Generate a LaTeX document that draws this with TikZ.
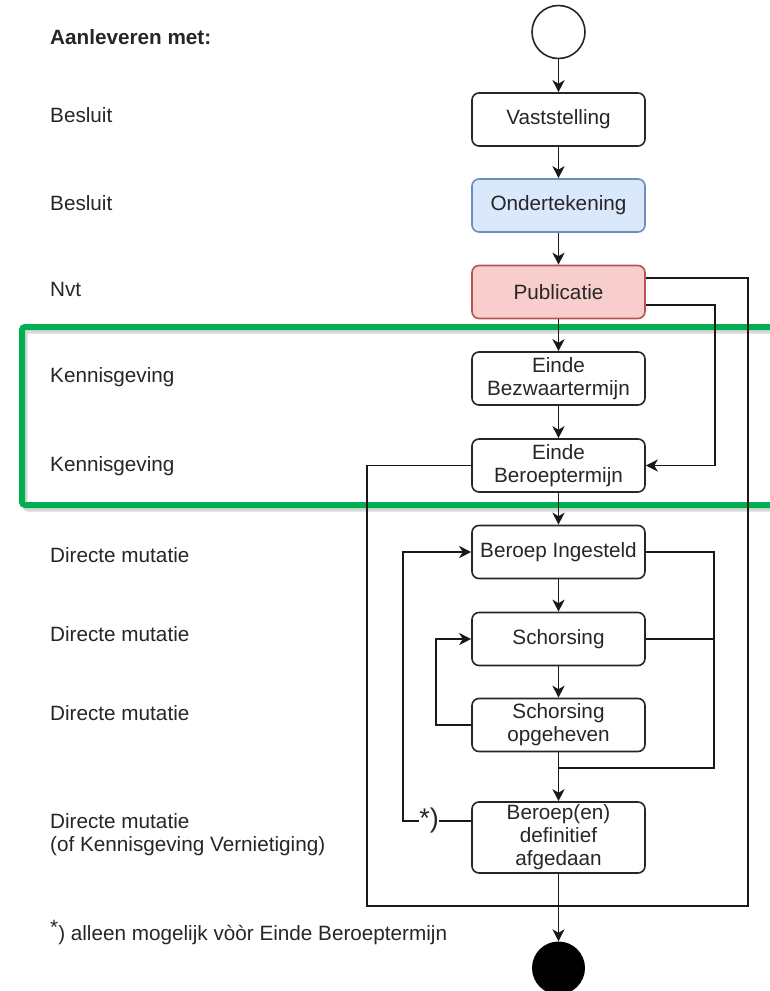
\documentclass[tikz,border=0pt]{standalone}
\usepackage{fontspec}
\setmainfont{Liberation Sans}
\usepackage{xcolor}
\usepackage{tikz}
\usetikzlibrary{arrows.meta}
\definecolor{blauwvak}{HTML}{DAE8FC}
\definecolor{blauwrand}{HTML}{6C8EBF}
\definecolor{roodvak}{HTML}{F8CECC}
\definecolor{roodrand}{HTML}{B85450}
\definecolor{kadergroen}{RGB}{0,176,80}
\begin{document}
\begin{tikzpicture}[x=1pt,y=1pt]
\tikzstyle{every node}+=[font=\fontsize{20.7}{23}\selectfont, text=black!85]
\tikzstyle{stap}=[draw=black!85, line width=1.6pt, rounded corners=7pt, minimum width=173pt, minimum height=53pt, align=center, inner sep=0pt]
\tikzstyle{pijl}=[-{Stealth[length=12pt,width=12pt,inset=3.5pt]}, line width=1.6pt, black!90]
\tikzstyle{lijn}=[line width=1.6pt, black!90]
\tikzstyle{kant}=[anchor=west, align=left, inner sep=0pt]
\useasboundingbox (0,0) rectangle (770,-991);
\draw [black!15, line width=5pt, rounded corners=3pt] (25,-331) rectangle (777,-509);
\draw [kadergroen, line width=6pt, rounded corners=3pt] (22,-327) rectangle (774,-505);
\node [kant] (kop) at (50,-37) {\textbf{Aanleveren met:}};
\node [kant] (l1) at (50,-115) {Besluit};
\node [kant] (l2) at (50,-203) {Besluit};
\node [kant] (l3) at (50,-289) {Nvt};
\node [kant] (l4) at (50,-377) {Kennisgeving};
\node [kant] (l5) at (50,-466) {Kennisgeving};
\node [kant] (l6) at (50,-555) {Directe mutatie};
\node [kant] (l7) at (50,-634) {Directe mutatie};
\node [kant] (l8) at (50,-713) {Directe mutatie};
\node [kant] (l9) at (50,-835) {Directe mutatie\\(of Kennisgeving Vernietiging)};
\node [kant] (voet) at (50,-933) {\raisebox{6pt}{*}) alleen mogelijk vòòr Einde Beroeptermijn};
\node [draw=black!85, line width=1.6pt, circle, minimum size=53pt, inner sep=0pt] (begin) at (558.5,-32) {};
\node [stap] (vast) at (558.5,-119.5) {Vaststelling};
\node [stap, fill=blauwvak, draw=blauwrand] (onder) at (558.5,-205.5) {Ondertekening};
\node [stap, fill=roodvak, draw=roodrand] (publ) at (558.5,-292) {Publicatie};
\node [stap] (bezw) at (558.5,-378.5) {Einde\\Bezwaartermijn};
\node [stap] (berp) at (558.5,-465.5) {Einde\\Beroeptermijn};
\node [stap] (ingest) at (558.5,-552) {Beroep Ingesteld};
\node [stap] (schors) at (558.5,-639) {Schorsing};
\node [stap] (opgeh) at (558.5,-725) {Schorsing\\opgeheven};
\node [stap, minimum height=71pt] (afged) at (558.5,-837.5) {Beroep(en)\\definitief\\afgedaan};
\node [fill=black, circle, minimum size=53pt, inner sep=0pt] (eind) at (558.5,-968) {};
\node [inner sep=0pt, font=\fontsize{27}{27}\selectfont] (ster) at (429,-821) {*)};
\coordinate (rechtsonder) at (748,-906);
\coordinate (linksonder) at (367,-906);
\coordinate (samen) at (714,-768);
\draw [pijl] (begin) -- (vast);
\draw [pijl] (vast) -- (onder);
\draw [pijl] (onder) -- (publ);
\draw [pijl] (publ) -- (bezw);
\draw [pijl] (bezw) -- (berp);
\draw [pijl] (berp) -- (ingest);
\draw [pijl] (ingest) -- (schors);
\draw [pijl] (schors) -- (opgeh);
\draw [pijl] (opgeh) -- (afged);
\draw [pijl] (afged) -- (eind);
\draw [pijl] ([yshift=-13pt]publ.east) -- ++(69,0) |- (berp.east);
\draw [lijn] ([yshift=14pt]publ.east) -| (rechtsonder) -- (linksonder) |- (berp.west);
\draw [lijn] (ingest.east) -| (samen) -- (samen -| opgeh.south);
\draw [lijn] (schors.east) -- (schors.east -| samen);
\draw [pijl] (opgeh.west) -- ++(-35,0) |- (schors.west);
\draw [lijn] (ster -| afged.west) -- (ster.east);
\draw [pijl] (ster.west) -- ++(-16,0) |- (ingest.west);
\end{tikzpicture}
\end{document}
